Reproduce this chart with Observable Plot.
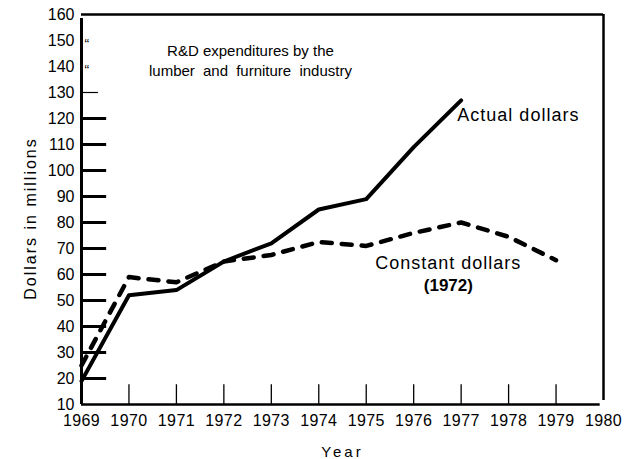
<!DOCTYPE html>
<html>
<head>
<meta charset="utf-8">
<script src="https://cdn.jsdelivr.net/npm/d3@7"></script>
<script src="https://cdn.jsdelivr.net/npm/@observablehq/plot@0.6"></script>
<style>
  html, body { margin: 0; padding: 0; background: #fff; }
</style>
</head>
<body>
<div id="chart"></div>
<script>
// ---- data ----
const years = [1969, 1970, 1971, 1972, 1973, 1974, 1975, 1976, 1977, 1978, 1979];
const actualYears = [1969, 1970, 1971, 1972, 1973, 1974, 1975, 1976, 1977];
const actualDollars = [19, 52, 54, 65, 72, 85, 89, 109, 127];
const constantDollars = [25, 59, 57, 65, 67.5, 72.5, 71, 76, 80, 74.5, 65.5];

const xTickLabels = [1969, 1970, 1971, 1972, 1973, 1974, 1975, 1976, 1977, 1978, 1979, 1980];
const xInnerTicks = [1970, 1971, 1972, 1973, 1974, 1975, 1976, 1977, 1978, 1979];
const yTickLabels = [10, 20, 30, 40, 50, 60, 70, 80, 90, 100, 110, 120, 130, 140, 150, 160];
const yThickTicks = [20, 30, 40, 50, 60, 70, 80, 90, 100, 110, 120];
const yThinTicks = [130];
const yQuoteTicks = [140, 150];

const titleLine1 = "R&D expenditures by the";
const titleLine2 = "lumber and furniture industry";
const actualLabel = "Actual dollars";
const constantLabel = "Constant dollars";
const baseYearLabel = "(1972)";
const xAxisLabel = "Year";
const yAxisLabel = "Dollars in millions";

// ---- tables built from the arrays ----
const actual = actualYears.map((year, i) => ({year, value: actualDollars[i]}));
const constant = years.map((year, i) => ({year, value: constantDollars[i]}));

const font = "'Liberation Sans', Arial, Helvetica, sans-serif";

const chart = Plot.plot({
  width: 629,
  height: 459,
  marginLeft: 81,
  marginRight: 26,
  marginTop: 14,
  marginBottom: 55,
  style: {fontFamily: font, fontSize: "16px", background: "#fff", color: "#000"},
  x: {domain: [1969, 1980]},
  y: {domain: [10, 160]},
  marks: [
    // frame
    Plot.ruleY([160], {x1: 1969, x2: 1980, strokeWidth: 2.5}),
    Plot.ruleX([1980], {y1: 11.5, y2: 160, strokeWidth: 2.5}),
    Plot.ruleX([1969], {y1: 10, y2: 158.5, strokeWidth: 3}),
    Plot.ruleY([10], {x1: 1969, x2: 1979.93, strokeWidth: 2.5}),
    // inner ticks
    Plot.ruleY(yThickTicks, {y: d => d, x1: 1969, x2: 1969.53, strokeWidth: 3}),
    Plot.ruleY(yThinTicks, {y: d => d, x1: 1969, x2: 1969.36, strokeWidth: 1.2}),
    Plot.text(yQuoteTicks, {x: 1969, y: d => d, text: () => "\u201C", dx: 3, dy: 8, lineAnchor: "bottom", textAnchor: "start", fontSize: 14, fill: "#000"}),
    Plot.ruleX(xInnerTicks, {x: d => d, y1: 10, y2: 17.6, strokeWidth: 1.3}),
    // axes
    Plot.axisX(xTickLabels, {tickSize: 0, tickPadding: 10, tickFormat: d => String(d), fontSize: 16, label: null}),
    Plot.axisY(yTickLabels, {tickSize: 0, tickPadding: 7, fontSize: 16, label: null}),
    // series
    Plot.line(constant, {x: "year", y: "value", strokeWidth: 4.5, strokeDasharray: "10,10", strokeLinecap: "round", strokeLinejoin: "round"}),
    Plot.line(actual, {x: "year", y: "value", strokeWidth: 4, strokeLinejoin: "round"}),
    // annotations
    Plot.text([titleLine1], {x: 1972.56, y: 148, text: d => d, lineAnchor: "top", textAnchor: "middle", fontSize: 15}),
    Plot.text([titleLine2], {x: 1972.56, y: 148, dy: 20, text: d => d, lineAnchor: "top", textAnchor: "middle", fontSize: 15}),
    Plot.text([actualLabel], {x: 1976.92, y: 119.2, text: d => d, lineAnchor: "bottom", textAnchor: "start", fontSize: 18}),
    Plot.text([constantLabel], {x: 1976.73, y: 62.3, text: d => d, lineAnchor: "bottom", textAnchor: "middle", fontSize: 18}),
    Plot.text([baseYearLabel], {x: 1976.73, y: 53.8, text: d => d, lineAnchor: "bottom", textAnchor: "middle", fontSize: 17, fontWeight: "bold"}),
    // axis titles
    Plot.text([xAxisLabel], {frameAnchor: "bottom", dy: 52, text: d => d, lineAnchor: "bottom", textAnchor: "middle", fontSize: 15}),
    Plot.text([yAxisLabel], {frameAnchor: "left", dx: -51, dy: 9, rotate: -90, text: d => d, textAnchor: "middle", fontSize: 16})
  ]
});

// spacing tweaks that Plot's text options do not expose
const svg = d3.select(chart);
function spaceText(content, prop, value) {
  svg.selectAll("text").filter(function () { return this.textContent === content; }).style(prop, value);
}
spaceText(titleLine2, "word-spacing", "4px");
spaceText(actualLabel, "letter-spacing", "1px");
spaceText(constantLabel, "letter-spacing", "1px");
spaceText(xAxisLabel, "letter-spacing", "3px");
spaceText(yAxisLabel, "letter-spacing", "2px");
xTickLabels.forEach(t => spaceText(String(t), "letter-spacing", "0.4px"));

document.getElementById("chart").appendChild(chart);
</script>
</body>
</html>
